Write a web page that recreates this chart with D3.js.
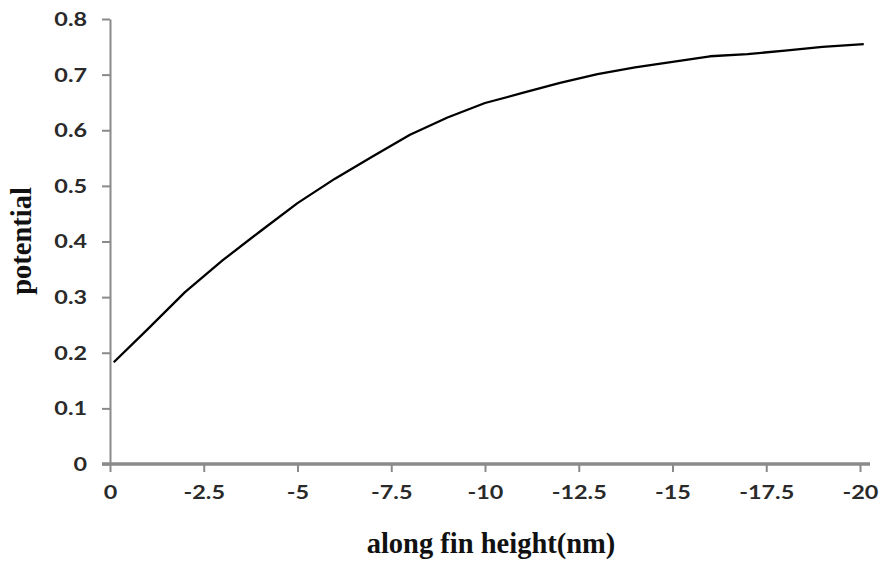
<!DOCTYPE html>
<html>
<head>
<meta charset="utf-8">
<script src="https://cdn.jsdelivr.net/npm/d3@7"></script>
<style>
  body { margin: 0; background: #fff; }
  .tick text { font-family: Lato, "Open Sans", sans-serif; font-weight: bold; font-size: 18px; fill: #2a2a2a; }
  .title { font-family: "Liberation Serif", "DejaVu Serif", serif; font-weight: bold; font-size: 28.5px; fill: #111; }
</style>
</head>
<body>
<svg id="chart" width="884" height="564"></svg>
<script>
// fin height (nm) and potential
var height_nm = [-0.1, -1, -2, -3, -4, -5, -6, -7, -8, -9, -10, -11, -12, -13, -14, -15, -16, -17, -18, -19, -20.1];
var potential = [0.183, 0.242, 0.309, 0.366, 0.418, 0.469, 0.513, 0.553, 0.592, 0.623, 0.649, 0.667, 0.685, 0.701, 0.713, 0.723, 0.733, 0.737, 0.743, 0.750, 0.755];

var xTicks = [0, -2.5, -5, -7.5, -10, -12.5, -15, -17.5, -20];
var yTicks = [0, 0.1, 0.2, 0.3, 0.4, 0.5, 0.6, 0.7, 0.8];

var xTitle = "along fin height(nm)";
var yTitle = "potential";

var svg = d3.select("#chart");

var x = d3.scaleLinear().domain([0, -20]).range([110, 860]);
var y = d3.scaleLinear().domain([0, 0.8]).range([464, 19]);

var axisColor = "#8a8a8a";

// y axis
var gy = svg.append("g")
    .attr("class", "axis axis--y")
    .attr("transform", "translate(" + x(0) + ",0)")
    .call(d3.axisLeft(y).tickValues(yTicks).tickSize(8).tickSizeOuter(0)
        .tickFormat(function(d) { return d === 0 ? "0" : d.toFixed(1); }));
gy.select(".domain").attr("stroke", axisColor).attr("stroke-width", 2);
gy.selectAll(".tick line").attr("stroke", axisColor).attr("stroke-width", 2);
gy.selectAll(".tick text")
    .attr("x", 0).attr("dy", "0.36em")
    .attr("transform", "translate(-23,0) scale(1.3,1)");

// x axis (plain hyphen as in the original labels)
var gx = svg.append("g")
    .attr("class", "axis axis--x")
    .attr("transform", "translate(0," + y(0) + ")")
    .call(d3.axisBottom(x).tickValues(xTicks).tickSize(8).tickSizeOuter(0)
        .tickFormat(function(d) { return String(d); }));
gx.select(".domain").remove();
gx.insert("line", ":first-child")
    .attr("x1", 102).attr("x2", 870)
    .attr("stroke", axisColor).attr("stroke-width", 3.5);
gx.selectAll(".tick line").attr("stroke", axisColor).attr("stroke-width", 2);
gx.selectAll(".tick text")
    .attr("y", 0).attr("dy", "0.36em")
    .attr("transform", "translate(0,29) scale(1.3,1)");

// curve
var pts = height_nm.map(function(h, i) { return [h, potential[i]]; });
svg.append("path")
    .datum(pts)
    .attr("fill", "none")
    .attr("stroke", "#000")
    .attr("stroke-width", 2.3)
    .attr("stroke-linejoin", "round")
    .attr("d", d3.line()
        .x(function(d) { return x(d[0]); })
        .y(function(d) { return y(d[1]); }));

// titles
svg.append("text")
    .attr("class", "title")
    .attr("text-anchor", "middle")
    .attr("x", 491).attr("y", 553)
    .text(xTitle);

svg.append("text")
    .attr("class", "title")
    .attr("text-anchor", "middle")
    .attr("transform", "translate(31,241) rotate(-90)")
    .text(yTitle);
</script>
</body>
</html>
